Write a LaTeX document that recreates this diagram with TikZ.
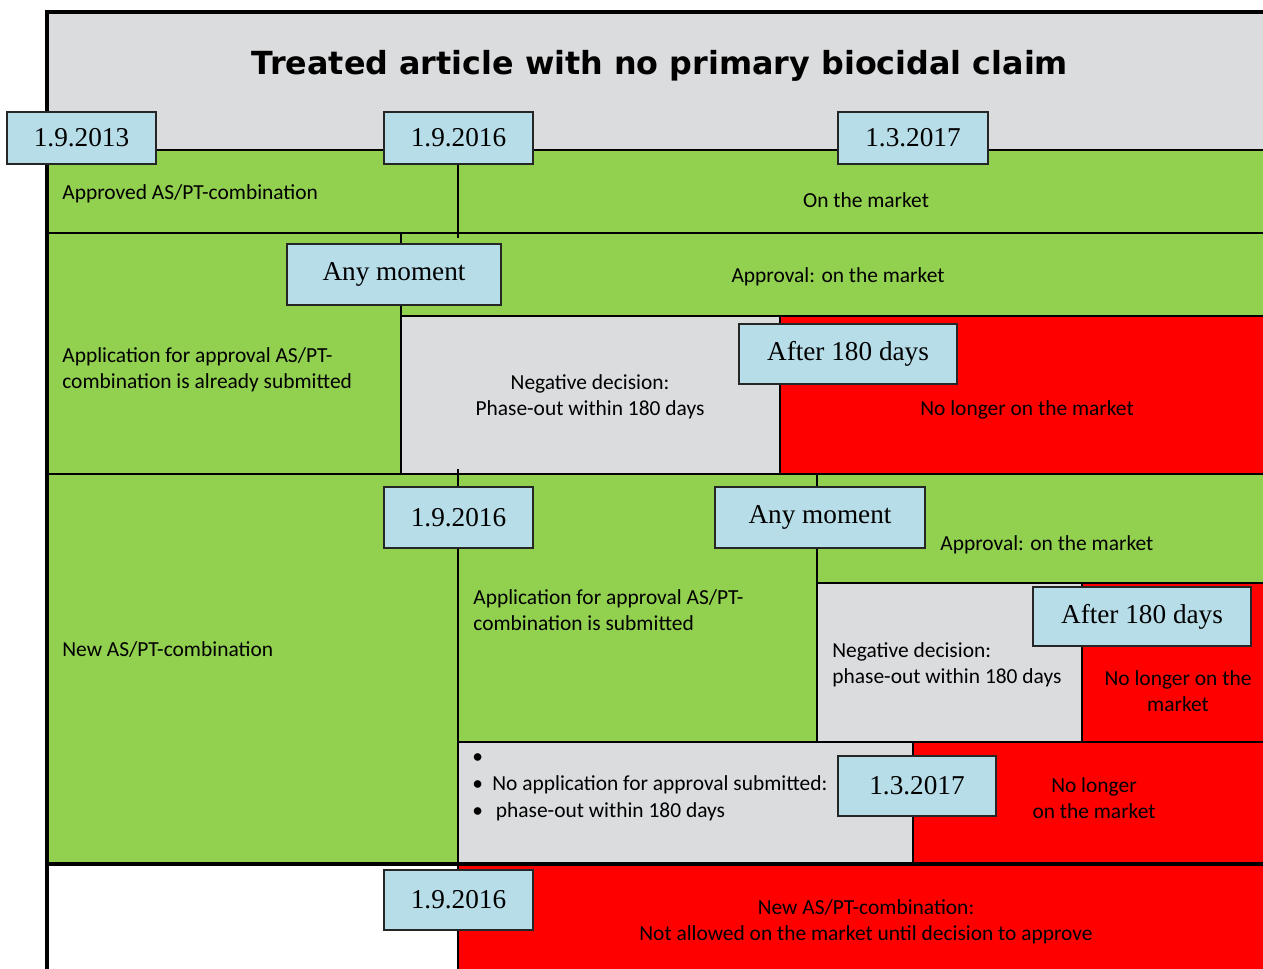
\documentclass[tikz,border=0pt]{standalone}
\usepackage{fontspec}
\setmainfont{Carlito}
\newfontfamily\datefont{Liberation Serif}
\newfontfamily\titlefont{DejaVu Sans}

\definecolor{barGreen}{HTML}{92D050}
\definecolor{barGray}{HTML}{DBDCDE}
\definecolor{barRed}{HTML}{FF0000}
\definecolor{dateBlue}{HTML}{B7DDE8}

\tikzset{
  datebox/.style={draw=black!85, fill=dateBlue, line width=1.1pt, inner sep=0pt,
    minimum height=1.2cm, font=\datefont\fontsize{15.5}{18}\selectfont},
  bodytext/.style={inner sep=0pt, font=\fontsize{12.2}{14.8}\selectfont},
  grid/.style={line width=1.3pt},
  frame/.style={line width=2.3pt}
}

\begin{document}
\begin{tikzpicture}[x=0.02cm, y=-0.02cm]
\useasboundingbox (0,0) rectangle (1263,969);

% colour fields
\fill[barGray] (47,12) rectangle (1263,150);
\fill[barGreen] (47,150) rectangle (1263,864);
\fill[barGray] (401,316) rectangle (780,474);
\fill[barRed] (780,316) rectangle (1263,474);
\fill[barGray] (817,583) rectangle (1082,742);
\fill[barRed] (1082,583) rectangle (1263,742);
\fill[barGray] (458,742) rectangle (913,864);
\fill[barRed] (913,742) rectangle (1263,864);
\fill[barRed] (458,864) rectangle (1263,969);

% grid lines
\draw[grid] (47,150) -- (1263,150);
\draw[grid] (47,233) -- (1263,233);
\draw[grid] (401,316) -- (1263,316);
\draw[grid] (47,474) -- (1263,474);
\draw[grid] (817,583) -- (1263,583);
\draw[grid] (458,742) -- (1263,742);
\draw[grid] (458,150) -- (458,238);
\draw[grid] (401,233) -- (401,474);
\draw[grid] (780,316) -- (780,474);
\draw[grid] (458,469) -- (458,969);
\draw[grid] (817,474) -- (817,742);
\draw[grid] (1082,583) -- (1082,742);
\draw[grid] (913,742) -- (913,864);
\draw[frame] (47,864) -- (1263,864);
\draw[frame] (1263,12) -- (47,12) -- (47,969);

% dates and moments
\node[datebox, minimum width=2.98cm, minimum height=1.04cm] (d2013) at (81.5,138) {1.9.2013\hspace{0.25cm}};
\node[datebox, minimum width=2.98cm, minimum height=1.04cm] (d2016a) at (458.5,138) {1.9.2016\hspace{0.25cm}};
\node[datebox, minimum width=3cm, minimum height=1.04cm] (d2017a) at (913,138) {1.3.2017\hspace{0.2cm}};
\node[datebox, minimum width=4.28cm, minimum height=1.22cm] (anyA) at (394,274.5) {Any moment};
\node[datebox, minimum width=4.36cm] (afterA) at (848,354) {After 180 days\hspace{0.2cm}};
\node[datebox, minimum width=2.98cm, minimum height=1.22cm] (d2016b) at (458.5,517.5) {1.9.2016\hspace{0.25cm}};
\node[datebox, minimum width=4.2cm, minimum height=1.22cm] (anyB) at (820,517.5) {Any moment};
\node[datebox, minimum width=4.36cm, minimum height=1.18cm] (afterB) at (1142,616.5) {After 180 days};
\node[datebox, minimum width=3.16cm] (d2017b) at (917,786) {1.3.2017\hspace{0.25cm}};
\node[datebox, minimum width=2.98cm] (d2016c) at (458.5,900) {1.9.2016\hspace{0.25cm}};

% texts
\node[inner sep=0pt, font=\titlefont\bfseries\fontsize{18.1}{21}\selectfont] (title) at (660,66) {Treated article with no primary biocidal claim};
\node[bodytext, anchor=west] (approved) at (62,194) {Approved AS/PT-combination};
\node[bodytext] (onmarket) at (866,200) {On the market};
\node[bodytext, anchor=west, align=left] (appalready) at (62,369.5) {Application for approval AS/PT-\\combination is already submitted};
\node[bodytext] (approvalA) at (838,277) {Approval: on the market};
\node[bodytext, align=center] (negA) at (590,397) {Negative decision:\\Phase-out within 180 days};
\node[bodytext] (nolongerA) at (1027,410) {No longer on the market};
\node[bodytext, anchor=west] (newcombo) at (62,650) {New AS/PT-combination};
\node[bodytext, anchor=west, align=left] (appsub) at (473,610) {Application for approval AS/PT-\\combination is submitted};
\node[bodytext, anchor=west] (approvalB) at (940,545) {Approval: on the market};
\node[bodytext, anchor=west, align=left] (negB) at (832,665) {Negative decision:\\phase-out within 180 days};
\node[bodytext, align=center] (nolongerB) at (1178,691) {No longer on the\\market};
\node[bodytext, anchor=west, align=left, font=\fontsize{12.2}{15.4}\selectfont] (noapp) at (472,787)
  {\makebox[0.4cm][l]{\textbullet}\\
   \makebox[0.4cm][l]{\textbullet}No application for approval submitted:\\
   \makebox[0.4cm][l]{\textbullet}\,phase-out within 180 days};
\node[bodytext, align=center] (nolongerC) at (1094,798) {No longer\\on the market};
\node[bodytext, align=center] (newnot) at (866,922) {New AS/PT-combination:\\Not allowed on the market until decision to approve};

\end{tikzpicture}
\end{document}
